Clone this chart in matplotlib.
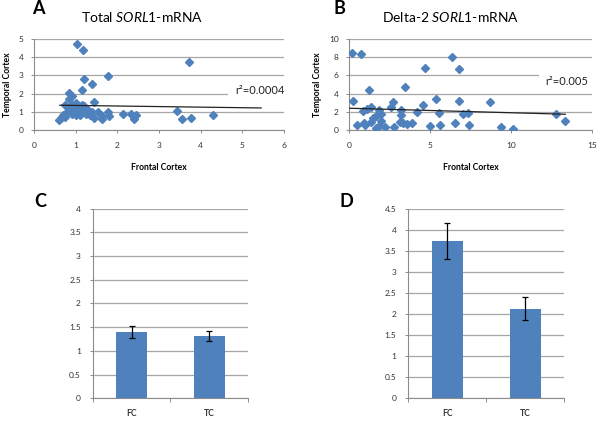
import matplotlib
matplotlib.use("Agg")
import matplotlib.pyplot as plt
import numpy as np

plt.rcParams['font.family'] = ['Lato', 'DejaVu Sans']
plt.rcParams['mathtext.fontset'] = 'custom'
plt.rcParams['mathtext.rm'] = 'Lato'
plt.rcParams['mathtext.it'] = 'Lato:italic'
plt.rcParams['mathtext.bf'] = 'Lato:bold'

# ---- Data ----
a_x = [1.04, 1.18, 3.71, 1.78, 1.19, 1.39, 1.14, 0.84, 0.90, 0.85, 1.43, 0.74,
       0.60, 0.70, 1.54, 1.64, 1.78, 1.79, 1.63, 1.44, 2.14, 2.32, 2.40, 2.45,
       3.42, 3.54, 3.77, 4.30,
       0.80, 0.85, 0.90, 0.95, 1.00, 1.00, 1.05, 1.10, 1.10, 1.15, 1.20, 1.20,
       1.25, 1.30, 1.35, 0.75, 0.90, 1.00, 1.40, 0.65]
a_y = [4.72, 4.38, 3.75, 2.98, 2.79, 2.52, 2.17, 2.02, 1.88, 1.69, 1.56, 1.38,
       0.55, 0.83, 1.01, 0.77, 1.00, 0.77, 0.59, 0.64, 0.88, 0.88, 0.60, 0.82,
       1.07, 0.59, 0.64, 0.81,
       1.00, 1.20, 0.90, 1.10, 1.30, 0.80, 1.00, 1.20, 0.85, 1.40, 1.00, 1.30,
       0.90, 1.10, 0.85, 0.70, 1.40, 1.50, 1.00, 0.65]
a_trend_x = [0.62, 5.45]
a_trend_y = [1.36, 1.21]
a_r2 = "r²=0.0004"

b_x = [0.19, 0.76, 6.38, 4.72, 6.81, 3.47, 1.24, 0.25, 5.38, 6.77, 8.71, 2.70,
       2.60, 4.58, 4.21, 1.84, 1.34, 0.87, 1.13, 1.98, 1.49, 1.65, 3.18, 3.22,
       5.57, 7.06, 7.37, 12.77, 13.33, 0.50, 0.97, 1.65, 2.21, 2.79, 3.34, 3.55,
       3.90, 4.99, 5.61, 6.54, 7.41, 9.39, 10.11, 1.82, 0.91, 1.96, 1.38, 3.14]
b_y = [8.46, 8.38, 8.01, 6.76, 6.69, 4.71, 4.34, 3.16, 3.42, 3.16, 3.05, 3.09,
       2.57, 2.72, 2.02, 2.17, 2.57, 2.10, 2.32, 1.73, 1.36, 1.50, 2.20, 1.65,
       1.91, 1.80, 1.91, 1.80, 1.03, 0.55, 0.55, 0.26, 0.37, 0.37, 0.77, 0.66,
       0.81, 0.40, 0.55, 0.74, 0.51, 0.29, 0.11, 0.44, 0.81, 0.96, 0.92, 0.92]
b_trend_x = [0.0, 13.35]
b_trend_y = [2.39, 1.73]
b_r2 = "r²=0.005"

categories = ["FC", "TC"]
c_values = [1.40, 1.31]
c_errors = [0.12, 0.11]
d_values = [3.73, 2.13]
d_errors = [0.43, 0.28]

# ---- Style ----
BLUE = "#4F81BD"
GRID = "#a6a6a6"
AXIS = "#8c8c8c"
TICK_FS = 6
LAB_FS = 6.2

fig = plt.figure(figsize=(6.0, 4.22), dpi=100)

def style_axes(ax):
    ax.set_facecolor("white")
    for s in ("top", "right"):
        ax.spines[s].set_visible(False)
    ax.spines["left"].set_color(AXIS)
    ax.spines["bottom"].set_color(AXIS)
    ax.spines["left"].set_linewidth(0.8)
    ax.spines["bottom"].set_linewidth(0.8)
    ax.tick_params(axis="both", labelsize=TICK_FS, colors="#333333",
                   length=2.5, width=0.7, direction="out", pad=3)
    ax.tick_params(axis="both", color=AXIS)
    ax.yaxis.grid(True, color=GRID, linewidth=0.9)
    ax.set_axisbelow(True)

def scatter_panel(rect, xs, ys, tx, ty, r2, xlim, xticks, ylim, yticks, r2pos, cover):
    ax = fig.add_axes(rect)
    style_axes(ax)
    ax.plot(xs, ys, linestyle="none", marker="D", markersize=4.0,
            color=BLUE, markeredgecolor=BLUE, zorder=3)
    ax.plot(tx, ty, color="#222222", linewidth=0.9, zorder=4)
    ax.set_xlim(*xlim)
    ax.set_ylim(*ylim)
    ax.set_xticks(xticks)
    ax.set_yticks(yticks)
    ax.tick_params(axis="x", pad=6)
    ax.tick_params(axis="y", pad=5)
    # white label box covering gridline behind the r² label
    ax.axvspan(cover[0], xlim[1], ymin=cover[1], ymax=cover[2],
               facecolor="white", edgecolor="none", zorder=2)
    ax.text(r2pos[0], r2pos[1], r2, fontsize=8, ha="left", va="center",
            color="#222222", zorder=5)
    ax.set_xlabel("Frontal Cortex", fontsize=LAB_FS, fontweight="bold", labelpad=10)
    ax.set_ylabel("Temporal Cortex", fontsize=LAB_FS, fontweight="bold", labelpad=5)
    return ax

axA = scatter_panel([0.0567, 0.692, 0.4167, 0.2156], a_x, a_y, a_trend_x, a_trend_y,
                    a_r2, (0, 6), range(0, 7), (0, 5), range(0, 6), (4.84, 2.17),
                    (4.66, 0.35, 0.52))
axB = scatter_panel([0.5817, 0.692, 0.405, 0.2156], b_x, b_y, b_trend_x, b_trend_y,
                    b_r2, (0, 15), [0, 5, 10, 15], (0, 10), range(0, 11, 2), (12.1, 5.3),
                    (11.75, 0.45, 0.65))

def bar_panel(rect, vals, errs, ylim, yticks):
    ax = fig.add_axes(rect)
    style_axes(ax)
    pos = np.arange(len(categories))
    ax.bar(pos, vals, width=0.4, color=BLUE, zorder=3,
           yerr=errs, error_kw=dict(ecolor="black", elinewidth=0.9,
                                    capsize=2.5, capthick=0.9, zorder=4))
    ax.set_xlim(-0.5, len(categories) - 0.5)
    ax.set_ylim(*ylim)
    ax.set_yticks(yticks)
    ax.set_yticklabels([("%g" % v) for v in yticks])
    ax.set_xticks(pos)
    ax.set_xticklabels(categories, fontsize=LAB_FS, fontweight="bold")
    ax.tick_params(axis="x", length=0, pad=8)
    ax.set_xticks([-0.5, 0.5, 1.5], minor=True)
    ax.tick_params(axis="x", which="minor", length=3, width=0.7, color=AXIS)
    ax.tick_params(axis="y", pad=6)
    return ax

axC = bar_panel([0.1545, 0.0562, 0.2593, 0.4493], c_values, c_errors,
                (0, 4), np.arange(0, 4.01, 0.5))
axD = bar_panel([0.6805, 0.0562, 0.2595, 0.4493], d_values, d_errors,
                (0, 4.5), np.arange(0, 4.51, 0.5))

# ---- Titles and panel letters ----
W, H = 600.0, 422.0
def ftext(x, y, s, **kw):
    fig.text(x / W, 1 - y / H, s, **kw)

ftext(141.7, 16.5, r"Total $\mathit{SORL1}$-mRNA", fontsize=10, ha="center", va="center")
ftext(451, 16.5, r"Delta-2 $\mathit{SORL1}$-mRNA", fontsize=10, ha="center", va="center")
for letter, x, y in [("A", 38, 9), ("B", 339, 9), ("C", 40, 202), ("D", 346, 202)]:
    ftext(x, y, letter, fontsize=13, fontweight="bold", ha="center", va="center")

fig.savefig("out.png", dpi=100, facecolor="white")
